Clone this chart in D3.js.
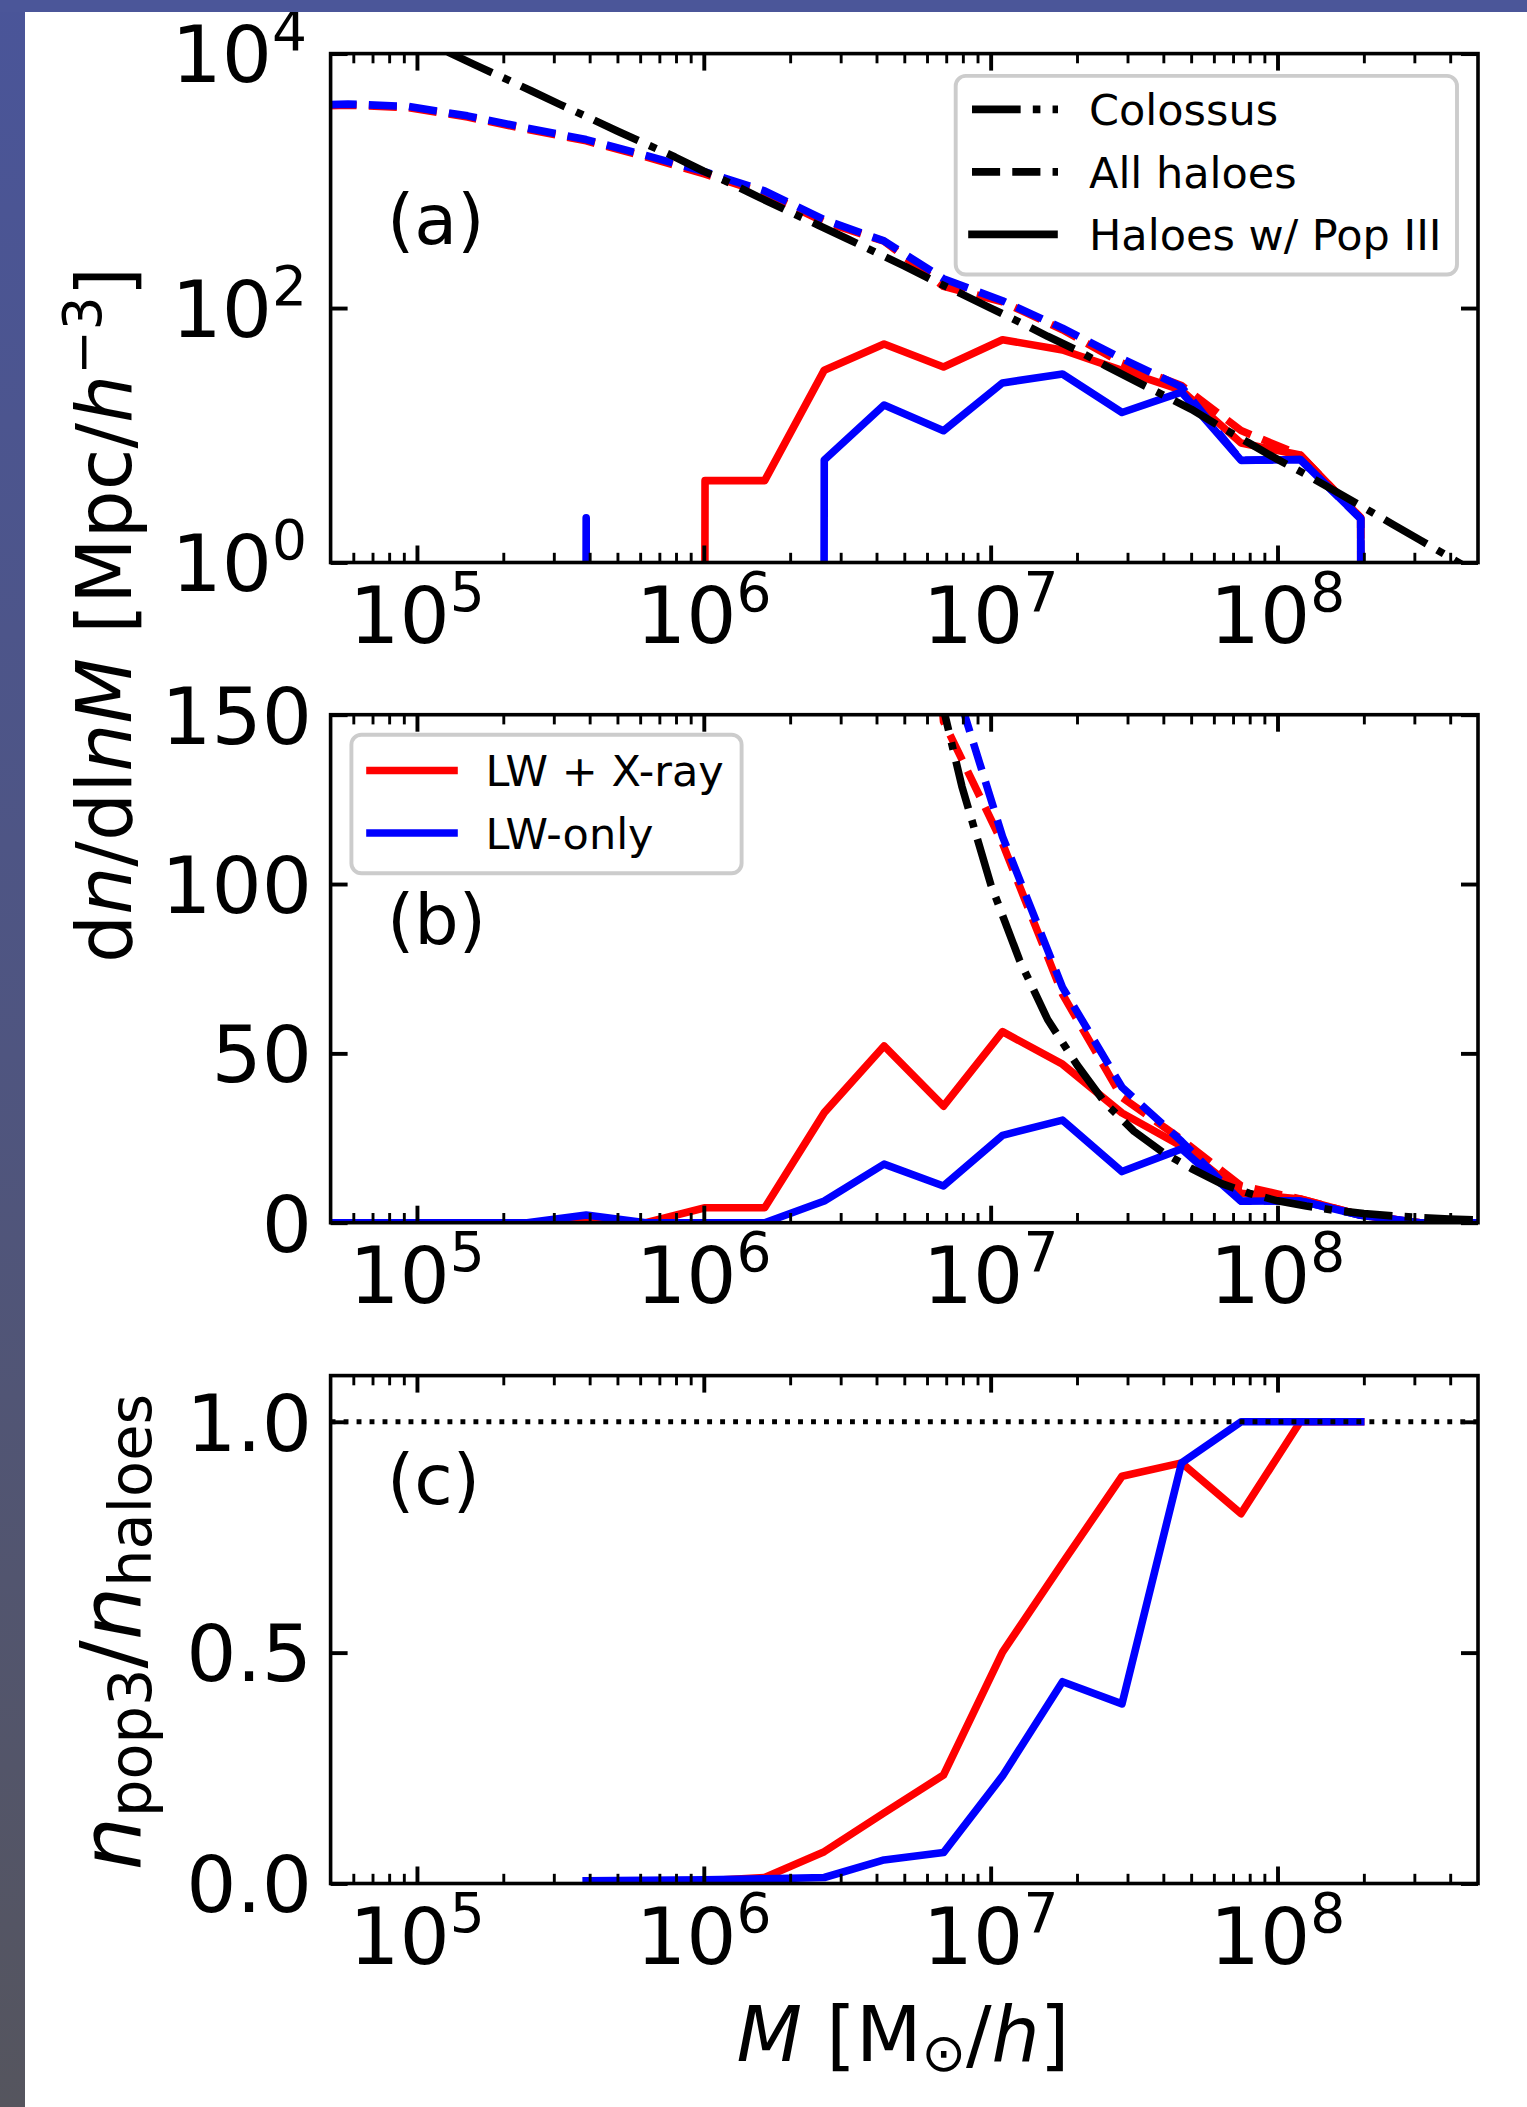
<!DOCTYPE html>
<html><head><meta charset="utf-8">
<script src="https://cdn.jsdelivr.net/npm/d3@7"></script>
<style>
body{margin:0;background:#fff}
svg{display:block}
text{font-family:"DejaVu Sans",sans-serif;fill:#000}
</style>
</head><body>
<svg id="fig" width="1527" height="2107"></svg>
<script>
// ---------------- data ----------------
const massBins = [3.56e4, 5.75e4, 9.27e4, 1.50e5, 2.42e5, 3.89e5, 6.28e5, 1.01e6, 1.63e6, 2.63e6,
                  4.25e6, 6.85e6, 1.10e7, 1.78e7, 2.87e7, 4.63e7, 7.46e7, 1.20e8, 1.95e8, 3.14e8, 5.06e8];
// all haloes (dashed)
const allXray = [3810, 3930, 3770, 3170, 2540, 2060, 1545, 1130, 800, 475,
                 335, 148, 112, 67.5, 37, 24.6, 10.9, 7.0, 2.25, 0, 0];
const allLW   = [3890, 4010, 3850, 3240, 2600, 2110, 1585, 1175, 832, 495,
                 337, 170, 114, 69.5, 40, 24, 6.35, 6.45, 2.21, 0, 0];
// haloes with Pop III (solid)
const pop3Xray = [0, 0, 0, 0, 0, 0, 0, 4.4, 4.4, 32.5,
                  52.2, 34.4, 56.4, 46.8, 32.4, 22.6, 8.7, 7.0, 2.25, 0, 0];
const pop3LW   = [0, 0, 0, 0, 0, 2.25, 0, 0, 0, 6.4,
                  17.3, 10.85, 25.8, 30.3, 15.1, 21.8, 6.35, 6.45, 2.21, 0, 0];
// Pop III fraction (panel c)
const fracXray = [null, null, null, null, null, null, null, 0.006, 0.013, 0.069,
                  0.153, 0.235, 0.501, 0.694, 0.882, 0.911, 0.801, 1.0, 1.0, null, null];
const fracLW   = [null, null, null, null, null, 0.006, 0.007, 0.008, 0.010, 0.013,
                  0.051, 0.067, 0.233, 0.437, 0.389, 0.911, 1.0, 1.0, 1.0, null, null];
// Colossus mass function
const colossusMass = [3.98e4, 5.01e4, 6.31e4, 7.94e4, 1.00e5, 1.26e5, 1.58e5, 2.00e5, 2.51e5, 3.16e5,
                      3.98e5, 5.01e5, 6.31e5, 7.94e5, 1.00e6, 1.26e6, 1.58e6, 2.00e6, 2.51e6, 3.16e6,
                      3.98e6, 5.01e6, 6.31e6, 7.94e6, 1.00e7, 1.26e7, 1.58e7, 2.00e7, 2.51e7, 3.16e7,
                      3.98e7, 5.01e7, 6.31e7, 7.94e7, 1.00e8, 1.26e8, 1.58e8, 2.00e8, 2.51e8, 3.16e8,
                      3.98e8, 5.01e8, 6.31e8];
const colossusVal  = [35480, 27540, 21630, 16980, 13340, 10470, 8222, 6457, 5082, 3972,
                      3133, 2455, 1941, 1538, 1189, 939.8, 731.1, 567.5, 447.7, 350.8,
                      273.5, 213.8, 164.4, 128.8, 100, 77.6, 60.0, 46.6, 35.3, 27.0,
                      20.8, 16.0, 11.7, 8.71, 6.46, 4.90, 3.66, 2.70, 2.01, 1.49,
                      1.10, 0.81, 0.60];
// ticks & labels
const xMajorTicks = [1e5, 1e6, 1e7, 1e8];
const xTickExps = ["5", "6", "7", "8"];
const yTicksA = [1, 1e2, 1e4];
const yTickExpsA = ["0", "2", "4"];
const yTicksB = [0, 50, 100, 150];
const yTickLabelsB = ["0", "50", "100", "150"];
const yTicksC = [0, 0.5, 1.0];
const yTickLabelsC = ["0.0", "0.5", "1.0"];
const legendStyles = ["Colossus", "All haloes", "Haloes w/ Pop III"];
const legendRuns = ["LW + X-ray", "LW-only"];
const panelTags = ["(a)", "(b)", "(c)"];

// ---------------- layout ----------------
const svg = d3.select("#fig");
const defs = svg.append("defs");
const L = 330.6, R = 1478;
const LW = 7.6;
const RED = "#ff0000", BLUE = "#0000ff", BLACK = "#000000";
const DASH = `${3.7*LW},${1.6*LW}`;
const DASHDOT = `${6.4*LW},${1.6*LW},${LW},${1.6*LW}`;
const TICKFS = 79, SUPFS = 55, LEGFS = 43;

const x = d3.scaleLog().domain([5e4, 5e8]).range([L, R]);
const yA = d3.scaleLog().domain([1, 1e4]).range([562.5, 53.6]);
const yB = d3.scaleLinear().domain([0, 150]).range([1222.7, 714.7]);
const yC = d3.scaleLinear().domain([0, 1.1]).range([1883.5, 1375.6]);

const panels = [
  {id: "a", y: yA, top: 53.6, bottom: 562.5, log: true},
  {id: "b", y: yB, top: 714.7, bottom: 1222.7, log: false},
  {id: "c", y: yC, top: 1375.6, bottom: 1883.5, log: false}
];
panels.forEach(p => {
  defs.append("clipPath").attr("id", "clip" + p.id).append("rect")
    .attr("x", L).attr("y", p.top).attr("width", R - L).attr("height", p.bottom - p.top);
});

const zip = (xs, ys) => xs.map((m, i) => [m, ys[i]]);

function drawLine(g, p, data, color, dash, width, cap) {
  const line = d3.line()
    .defined(d => d[1] !== null)
    .x(d => x(d[0]))
    .y(d => p.log ? p.y(Math.max(d[1], 1e-300)) : p.y(d[1]));
  g.append("path").datum(data)
    .attr("d", line)
    .attr("fill", "none")
    .attr("stroke", color)
    .attr("stroke-width", width || LW)
    .attr("stroke-dasharray", dash || null)
    .attr("stroke-linecap", cap || (dash ? "butt" : "square"))
    .attr("stroke-linejoin", "round");
}

function powText(g, px, py, anchor, exp) {
  const t = g.append("text").attr("x", px).attr("y", py).attr("text-anchor", anchor)
    .style("font-size", TICKFS + "px");
  t.append("tspan").text("10");
  t.append("tspan").attr("dy", -32).style("font-size", SUPFS + "px").text(exp);
}

function drawAxes(p) {
  const g = svg.append("g");
  const minor = x.ticks().filter(v => !xMajorTicks.includes(v) && v > 5e4 && v < 5e8);
  const mk = (axis, tr, vals, size, w) => {
    const a = g.append("g").attr("transform", tr)
      .call(axis.tickValues(vals).tickSize(-size).tickFormat(""));
    a.select(".domain").remove();
    a.selectAll("line").attr("stroke", BLACK).attr("stroke-width", w);
  };
  mk(d3.axisBottom(x), `translate(0,${p.bottom})`, xMajorTicks, 17, 3.9);
  mk(d3.axisBottom(x), `translate(0,${p.bottom})`, minor, 9.7, 2.9);
  mk(d3.axisTop(x), `translate(0,${p.top})`, xMajorTicks, 17, 3.9);
  mk(d3.axisTop(x), `translate(0,${p.top})`, minor, 9.7, 2.9);
  const yt = p.id === "a" ? yTicksA : p.id === "b" ? yTicksB : yTicksC;
  mk(d3.axisLeft(p.y), `translate(${L},0)`, yt, 17, 3.9);
  mk(d3.axisRight(p.y), `translate(${R},0)`, yt, 17, 3.9);
  // frame
  g.append("rect").attr("x", L).attr("y", p.top).attr("width", R - L).attr("height", p.bottom - p.top)
    .attr("fill", "none").attr("stroke", BLACK).attr("stroke-width", 3.6);
  // x tick labels
  xMajorTicks.forEach((v, i) => powText(g, x(v) - 67.8, p.bottom + 80, "start", xTickExps[i]));
  // y tick labels
  if (p.id === "a") {
    yTicksA.forEach((v, i) => powText(g, 307, p.y(v) + 28.8, "end", yTickExpsA[i]));
  } else {
    const labs = p.id === "b" ? yTickLabelsB : yTickLabelsC;
    yt.forEach((v, i) => g.append("text").attr("x", 312).attr("y", p.y(v) + 28.8)
      .attr("text-anchor", "end").style("font-size", TICKFS + "px").text(labs[i]));
  }
}

// ---------------- panels a & b ----------------
[panels[0], panels[1]].forEach(p => {
  const g = svg.append("g").attr("clip-path", `url(#clip${p.id})`);
  drawLine(g, p, zip(massBins, allXray), RED, DASH);
  drawLine(g, p, zip(massBins, pop3Xray), RED);
  drawLine(g, p, zip(massBins, allLW), BLUE, DASH);
  drawLine(g, p, zip(massBins, pop3LW), BLUE);
  drawLine(g, p, zip(colossusMass, colossusVal), BLACK, DASHDOT);
  drawAxes(p);
});

// ---------------- panel c ----------------
{
  const p = panels[2];
  const g = svg.append("g").attr("clip-path", "url(#clipc)");
  drawLine(g, p, zip(massBins, fracXray), RED);
  drawLine(g, p, zip(massBins, fracLW), BLUE);
  g.append("line").attr("x1", L).attr("x2", R).attr("y1", yC(1)).attr("y2", yC(1))
    .attr("stroke", BLACK).attr("stroke-width", 4.9).attr("stroke-dasharray", `4.9,${1.65*4.9}`);
  drawAxes(p);
}

// ---------------- panel tags ----------------
[[244, 0], [944.4, 1], [1504, 2]].forEach(([by, i]) => {
  svg.append("text").attr("x", 387).attr("y", by).style("font-size", "70px").text(panelTags[i]);
});

// ---------------- legends ----------------
function legendBox(x0, y0, w, h) {
  svg.append("rect").attr("x", x0).attr("y", y0).attr("width", w).attr("height", h)
    .attr("rx", 10).attr("ry", 10)
    .attr("fill", "#fff").attr("fill-opacity", 0.8)
    .attr("stroke", "#cccccc").attr("stroke-width", 3.9);
}
function handle(x1, x2, yy, color, dash) {
  svg.append("line").attr("x1", x1).attr("x2", x2).attr("y1", yy).attr("y2", yy)
    .attr("stroke", color).attr("stroke-width", LW)
    .attr("stroke-dasharray", dash || null)
    .attr("stroke-linecap", dash ? "butt" : "square");
}
legendBox(955.7, 75.9, 501.3, 198.6);
const legDash = [DASHDOT, DASH, null];
legendStyles.forEach((s, i) => {
  const hy = 109.4 + i * 62.5;
  handle(972, i === 2 ? 1054 : 1058, hy, BLACK, legDash[i]);
  svg.append("text").attr("x", 1089).attr("y", hy + 15.6).style("font-size", LEGFS + "px").text(s);
});
legendBox(351.4, 734.8, 390.2, 138.4);
[RED, BLUE].forEach((c, i) => {
  const hy = 770.5 + i * 62.5;
  handle(370, 454, hy, c, null);
  svg.append("text").attr("x", 485.5).attr("y", hy + 15.6).style("font-size", LEGFS + "px").text(legendRuns[i]);
});

// ---------------- axis labels ----------------
{
  const t = svg.append("text").attr("transform", "translate(131,615) rotate(-90)")
    .attr("text-anchor", "middle").style("font-size", "76px");
  t.append("tspan").text("d");
  t.append("tspan").style("font-style", "italic").text("n");
  t.append("tspan").text("/dl");
  t.append("tspan").style("font-style", "italic").text("nM");
  t.append("tspan").text(" [Mpc/");
  t.append("tspan").style("font-style", "italic").text("h");
  t.append("tspan").attr("dy", -30).style("font-size", "53px").text("\u22123");
  t.append("tspan").attr("dy", 30).text("]");
}
{
  const t = svg.append("text").attr("transform", "translate(140,1632) rotate(-90)")
    .attr("text-anchor", "middle").style("font-size", "84px");
  t.append("tspan").style("font-style", "italic").text("n");
  t.append("tspan").attr("dy", 11).style("font-size", "59px").text("pop3");
  t.append("tspan").attr("dy", -11).text("/");
  t.append("tspan").style("font-style", "italic").text("n");
  t.append("tspan").attr("dy", 11).style("font-size", "59px").text("haloes");
}
{
  const t = svg.append("text").attr("x", 903).attr("y", 2061)
    .attr("text-anchor", "middle").style("font-size", "76px");
  t.append("tspan").style("font-style", "italic").text("M");
  t.append("tspan").text(" [M");
  t.append("tspan").attr("dy", 10).style("font-size", "53px").text("\u2299");
  t.append("tspan").attr("dy", -10).text("/");
  t.append("tspan").style("font-style", "italic").text("h");
  t.append("tspan").text("]");
}

// ---------------- slide border ----------------
const grad = defs.append("linearGradient").attr("id", "band").attr("x1", 0).attr("x2", 0).attr("y1", 0).attr("y2", 1);
grad.append("stop").attr("offset", "0%").attr("stop-color", "#4a5599");
grad.append("stop").attr("offset", "50%").attr("stop-color", "#4f5580");
grad.append("stop").attr("offset", "100%").attr("stop-color", "#55555e");
svg.append("rect").attr("x", 0).attr("y", 0).attr("width", 25).attr("height", 2107).attr("fill", "url(#band)");
svg.append("rect").attr("x", 0).attr("y", 0).attr("width", 1527).attr("height", 12).attr("fill", "#4b5699");
</script>
</body></html>
